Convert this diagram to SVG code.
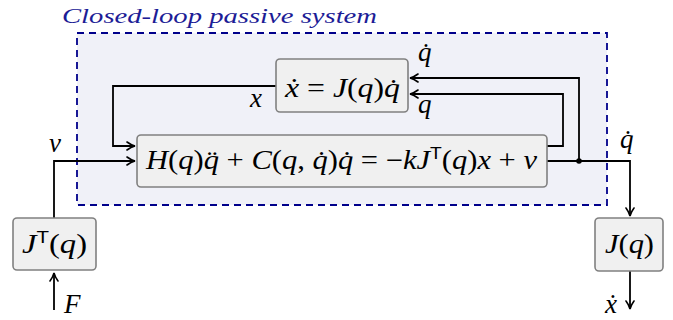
<svg xmlns="http://www.w3.org/2000/svg" width="673" height="320" viewBox="0 0 673 320">
<style>
.box{fill:#f0f0f0;stroke:#808080;stroke-width:1.6}
.m{font-family:'Times New Roman','Liberation Serif','DejaVu Serif',serif;font-size:27px;font-style:italic;fill:#000}
.r{font-style:normal}
.t{font-family:'Liberation Sans',sans-serif;font-style:normal;font-size:17px}
.ln{fill:none;stroke:#000;stroke-width:1.8}
</style>
<defs>
<marker id="ah" viewBox="0 0 10 10" refX="9" refY="5" markerWidth="10" markerHeight="10" markerUnits="userSpaceOnUse" orient="auto">
<path d="M1,1 Q5,4 9,5 Q5,6 1,9" fill="none" stroke="#000" stroke-width="1.6" stroke-linecap="round"/>
</marker>
</defs>
<g id="closed-loop">
<rect x="77" y="33" width="530" height="172" fill="#f0f1f8" stroke="#00008b" stroke-width="1.8" stroke-dasharray="7,5"/>
<text x="62" y="23" font-family="'Times New Roman','Liberation Serif',serif" font-style="italic" font-size="20" fill="#1c1c96" textLength="315" lengthAdjust="spacingAndGlyphs">Closed-loop passive system</text>
</g>
<g id="connectors">
<path class="ln" d="M276,86 H113 V146 H135" marker-end="url(#ah)"/>
<path class="ln" d="M54,218 V161 H135" marker-end="url(#ah)"/>
<path class="ln" d="M54,310 V273" marker-end="url(#ah)"/>
<path class="ln" d="M547,146 H563 V94 H410" marker-end="url(#ah)"/>
<path class="ln" d="M579,161 V78 H410" marker-end="url(#ah)"/>
<path class="ln" d="M547,161 H630 V216" marker-end="url(#ah)"/>
<path class="ln" d="M630,271 V309" marker-end="url(#ah)"/>
<circle cx="579" cy="161" r="2.8" fill="#000"/>
<text class="m" x="250" y="107">x</text>
<text class="m" x="49" y="152">v</text>
<text class="m" x="64" y="313" font-size="25">F</text>
<text class="m" x="418" y="61">q̇</text>
<text class="m" x="418" y="113">q</text>
<text class="m" x="620" y="148">q̇</text>
<text class="m" x="605" y="313" font-size="25">ẋ</text>
</g>
<g id="kinematics">
<rect class="box" x="276" y="59" width="132" height="53" rx="4"/>
<text class="m" x="285" y="97" textLength="115" lengthAdjust="spacingAndGlyphs">ẋ<tspan class="r"> = </tspan>J<tspan class="r">(</tspan>q<tspan class="r">)</tspan>q̇</text>
</g>
<g id="dynamics">
<rect class="box" x="137" y="135" width="410" height="52" rx="4"/>
<text class="m" x="146" y="169" textLength="391" lengthAdjust="spacingAndGlyphs">H<tspan class="r">(</tspan>q<tspan class="r">)</tspan>q̈<tspan class="r"> + </tspan>C<tspan class="r">(</tspan>q<tspan class="r">, </tspan>q̇<tspan class="r">)</tspan>q̇<tspan class="r"> = −</tspan>kJ<tspan class="t" dy="-10">T</tspan><tspan class="r" dy="10">(</tspan>q<tspan class="r">)</tspan>x<tspan class="r"> + </tspan>v</text>
</g>
<g id="jt">
<rect class="box" x="13" y="218" width="83" height="52" rx="4"/>
<text class="m" x="22" y="253" textLength="65" lengthAdjust="spacingAndGlyphs">J<tspan class="t" dy="-10">T</tspan><tspan class="r" dy="10">(</tspan>q<tspan class="r">)</tspan></text>
</g>
<g id="j">
<rect class="box" x="595" y="218" width="68" height="53" rx="4"/>
<text class="m" x="605" y="253" textLength="49" lengthAdjust="spacingAndGlyphs">J<tspan class="r">(</tspan>q<tspan class="r">)</tspan></text>
</g>
</svg>
